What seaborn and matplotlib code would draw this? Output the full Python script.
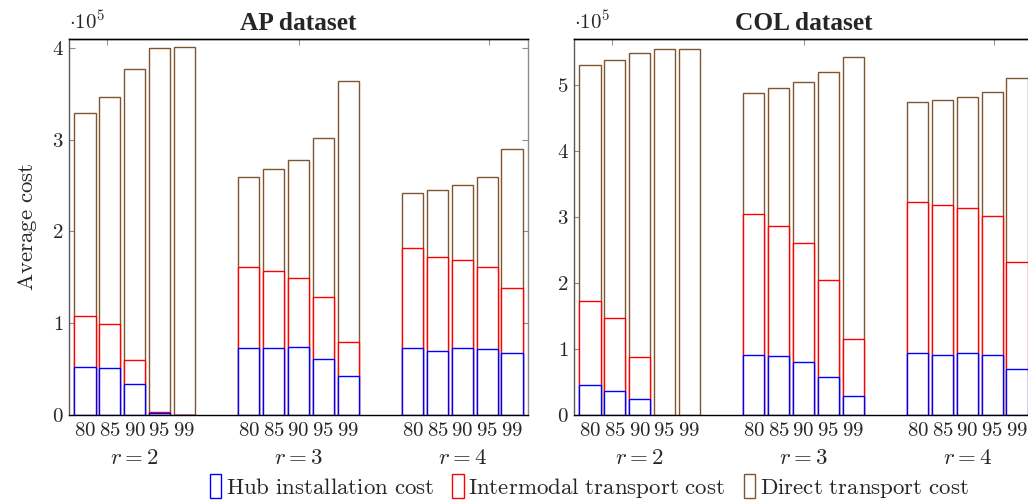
import numpy as np
import pandas as pd
import seaborn as sns
import matplotlib
matplotlib.use("Agg")
import matplotlib.pyplot as plt
from matplotlib.patches import Patch
from matplotlib.ticker import FuncFormatter

# ---------------- data (values in units of 1e5) ----------------
groups = ["2", "3", "4"]                 # r values
levels = ["80", "85", "90", "95", "99"]  # thresholds

ap_hub = [[0.525, 0.515, 0.336, 0.020, 0.002],
          [0.725, 0.725, 0.744, 0.609, 0.423],
          [0.729, 0.692, 0.733, 0.722, 0.678]]
ap_inter = [[0.552, 0.479, 0.264, 0.010, 0.001],
            [0.887, 0.843, 0.752, 0.676, 0.371],
            [1.087, 1.026, 0.952, 0.887, 0.705]]
ap_direct = [[2.213, 2.476, 3.170, 3.970, 4.002],
             [0.983, 1.112, 1.284, 1.732, 2.846],
             [0.604, 0.736, 0.825, 0.986, 1.517]]

col_hub = [[0.450, 0.370, 0.240, 0.000, 0.000],
           [0.914, 0.890, 0.810, 0.576, 0.290],
           [0.935, 0.914, 0.935, 0.914, 0.700]]
col_inter = [[1.270, 1.095, 0.643, 0.000, 0.000],
             [2.136, 1.970, 1.800, 1.464, 0.860],
             [2.295, 2.266, 2.205, 2.106, 1.620]]
col_direct = [[3.580, 3.905, 4.597, 5.550, 5.550],
              [1.830, 2.090, 2.430, 3.150, 4.270],
              [1.510, 1.590, 1.670, 1.870, 2.790]]

series_labels = ["Hub installation cost", "Intermodal transport cost", "Direct transport cost"]
titles = ["AP dataset", "COL dataset"]

# ---------------- style ----------------
BLUE, RED, BROWN = "#0000ff", "#ff0000", "#7f5530"
sns.set_style("white")
plt.rcParams["font.family"] = "serif"
plt.rcParams["font.serif"] = ["Liberation Serif", "DejaVu Serif"]
plt.rcParams["mathtext.fontset"] = "cm"

FS = 15
FS_BIG = 16.5
W, H = 1028, 501
fig = plt.figure(figsize=(W / 100, H / 100), dpi=100)
ax_w, ax_h = 459 / W, 376.3 / H
ax_b = (H - 415) / H
axes = [fig.add_axes([69 / W, ax_b, ax_w, ax_h]),
        fig.add_axes([574 / W, ax_b, ax_w, ax_h])]


def build(hub, inter, direct):
    rows = []
    for gi, g in enumerate(groups):
        for li, l in enumerate(levels):
            rows.append(dict(r=g, level=l, hub=hub[gi][li],
                             inter=inter[gi][li], direct=direct[gi][li]))
    df = pd.DataFrame(rows)
    df["s_inter"] = df["hub"] + df["inter"]
    df["s_total"] = df["s_inter"] + df["direct"]
    return df


def draw(ax, df, ymax, ystep_max, title):
    first = None
    for col, c in [("s_total", BROWN), ("s_inter", RED), ("hub", BLUE)]:
        n0 = len(ax.patches)
        sns.barplot(data=df, x="r", y=col, hue="level", order=groups,
                    hue_order=levels, palette=["white"] * len(levels),
                    edgecolor=c, linewidth=1.0, width=0.756, gap=0.15,
                    dodge=True, legend=False, errorbar=None, ax=ax,
                    saturation=1)
        new = ax.patches[n0:]
        if first is None:
            first = new
        else:
            for p in new:
                if p.get_height() <= 0:
                    p.set_visible(False)
    ax.set_xlabel("")
    ax.set_ylabel("")
    ax.set_xlim(-0.40, 2.40)
    ax.set_ylim(0, ymax)

    centers = sorted(p.get_x() + p.get_width() / 2 for p in first)
    lab = [f"${l}$" for g in groups for l in levels]
    ax.xaxis.remove_overlapping_locs = False
    ax.set_xticks(centers, labels=lab)
    ax.set_xticks(range(len(groups)), labels=[f"$r = {g}$" for g in groups], minor=True)
    ax.tick_params(axis="x", which="major", length=0, pad=5, labelsize=FS)
    ax.tick_params(axis="x", which="minor", direction="in", length=3,
                   color="0.6", pad=24, labelsize=FS_BIG, top=False)

    ax.set_yticks(range(0, ystep_max + 1))
    ax.yaxis.set_major_formatter(FuncFormatter(lambda v, p: f"${v:g}$"))
    ax.tick_params(axis="y", direction="in", length=4, color="0.55",
                   left=True, right=True, labelsize=FS, pad=4)

    sec = ax.secondary_xaxis("top")
    sec.set_xticks([-0.17, 1.0, 2.16])
    sec.set_xticklabels([])
    sec.tick_params(direction="in", length=4, color="0.6")
    sec.spines["top"].set_linewidth(1.0)

    for s in ax.spines.values():
        s.set_color("black")
        s.set_linewidth(1.0)
    ax.spines["left"].set_color("0.35")
    ax.spines["right"].set_color("0.55")

    ax.text(0.0, 1.012, r"$\cdot 10^5$", transform=ax.transAxes,
            ha="left", va="bottom", fontsize=FS)
    ax.set_title(title, fontsize=18.3, fontweight="bold", pad=6)


draw(axes[0], build(ap_hub, ap_inter, ap_direct), 4.1, 4, titles[0])
draw(axes[1], build(col_hub, col_inter, col_direct), 5.7, 5, titles[1])
axes[0].set_ylabel(r"$\mathrm{Average\ cost}$", fontsize=FS_BIG, labelpad=9)

handles = [Patch(facecolor="white", edgecolor=c, linewidth=1.0)
           for c in (BLUE, RED, BROWN)]
labels = [r"$\mathrm{" + s.replace(" ", r"\ ") + "}$" for s in series_labels]
fig.legend(handles, labels, loc="center", bbox_to_anchor=(589 / W, (H - 487) / H),
           ncol=3, frameon=False, fontsize=FS_BIG, handlelength=0.5,
           handleheight=1.2, handletextpad=0.2, columnspacing=0.8,
           borderaxespad=0, borderpad=0)

fig.savefig("out.png", dpi=100)
